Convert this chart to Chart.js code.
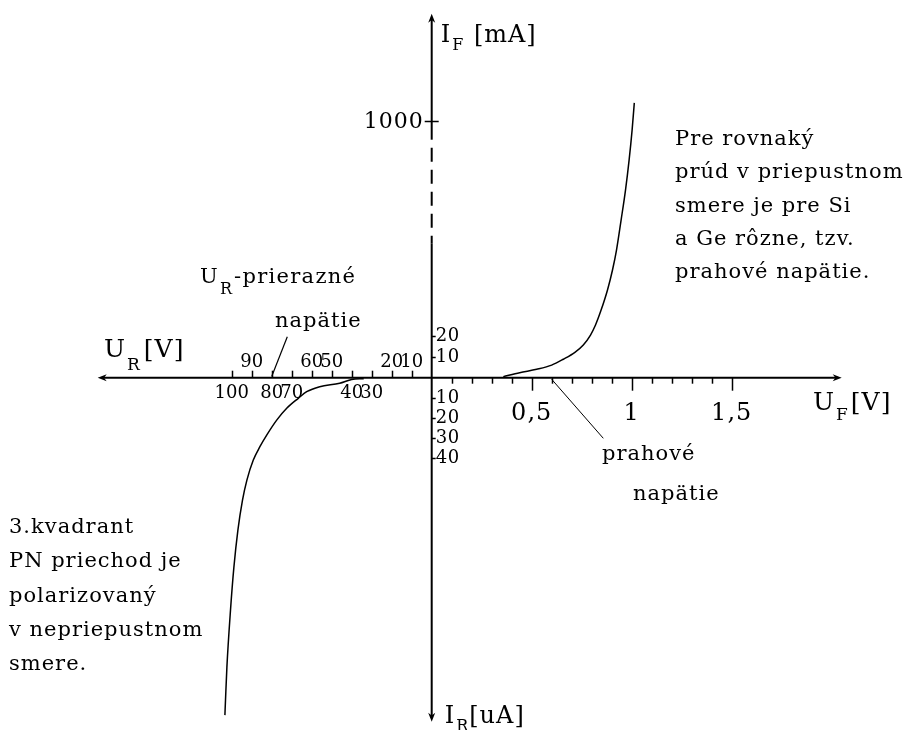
<!DOCTYPE html>
<html>
<head>
<meta charset="utf-8">
<script src="https://cdn.jsdelivr.net/npm/chart.js@4/dist/chart.umd.min.js"></script>
<style>
html,body{margin:0;padding:0;background:#ffffff;}
#c{display:block;}
</style>
</head>
<body>
<canvas id="c" width="914" height="730"></canvas>
<script>
// ---------------- DATA ----------------
// Forward branch (1st quadrant): U_F [V] vs I_F [mA]
const forwardVoltage = [0.358, 0.44, 0.525, 0.60, 0.658, 0.716, 0.758, 0.794, 0.819, 0.847, 0.879, 0.904, 0.924, 0.947, 0.969, 0.987, 1.002, 1.013];
const forwardCurrent = [0.5, 2.4, 4.0, 6.0, 8.8, 12.1, 15.6, 23, 69, 137, 229, 320, 411, 548, 685, 822, 959, 1083];

// Reverse branch (3rd quadrant): U_R [V] vs I_R [uA]
const reverseVoltage = [34, 40, 46, 56, 62.5, 66.7, 72.5, 77.5, 82.5, 85.9, 89.2, 92.4, 94.6, 96.9, 98.9, 100.6, 102.4, 103.1, 103.4];
const reverseCurrent = [0.5, 0.9, 2.8, 4.5, 7.0, 10.3, 15.3, 21.2, 28.7, 34.5, 41.2, 51.2, 61.2, 76.2, 94.7, 116.2, 144.7, 161.2, 168.7];

// Axis ticks
const forwardVoltageTicks = [0.1, 0.2, 0.3, 0.4, 0.5, 0.6, 0.7, 0.8, 0.9, 1.0, 1.1, 1.2, 1.3, 1.4, 1.5];
const forwardVoltageMajor = [0.5, 1.0, 1.5];
const forwardVoltageLabels = ['0,5', '1', '1,5'];
const reverseVoltageTicks = [10, 20, 30, 40, 50, 60, 70, 80, 90, 100];
const reverseLabelsAbove = [90, 60, 50, 20, 10];
const reverseLabelsBelow = [100, 80, 70, 40, 30];
const forwardCurrentTicks = [10, 20];
const forwardCurrentBigTick = [1000];
const reverseCurrentTicks = [10, 20, 30, 40];

// Pointer lines (annotation leaders)
const breakdownPointerUR = [80, 72.2];     // V
const breakdownPointerIF = [0.6, 19.5];    // mA
const thresholdPointerUF = [0.6, 0.858];   // V
const thresholdPointerIR = [0.8, 30.3];    // uA

// Texts
const axisTitleIF = ['I', 'F', ' [mA]'];
const axisTitleIR = ['I', 'R', '[uA]'];
const axisTitleUR = ['U', 'R', '[V]'];
const axisTitleUF = ['U', 'F', '[V]'];
const noteForward = ['Pre rovnaký', 'prúd v priepustnom', 'smere je pre Si', 'a Ge rôzne, tzv.', 'prahové napätie.'];
const noteQuadrant = ['3.kvadrant', 'PN priechod je', 'polarizovaný', 'v nepriepustnom', 'smere.'];
const noteBreakdown = ['U', 'R', '-prierazné', 'napätie'];
const noteThreshold = ['prahové', 'napätie'];

// ---------------- AXIS MAPPING (broken / mixed-unit axes) ----------------
const FWD_LIN = 1.05, FWD_BREAK = 20, FWD_COMP = 0.1095, REV_X = 100;
function yFromIF(mA) { return mA <= FWD_BREAK ? mA * FWD_LIN : FWD_BREAK * FWD_LIN + (mA - FWD_BREAK) * FWD_COMP; }
function yFromIR(uA) { return -uA; }
function xFromUF(v) { return v; }
function xFromUR(v) { return -v / REV_X; }

// axis extents (in quantity units)
const axisLeftUR = 167, axisRightUF = 2.05, axisTopIF = 1490, axisBottomIR = 172;
const dashFromIF = 440, dashToIF = 915;

const forwardPts = forwardVoltage.map((v, i) => ({x: xFromUF(v), y: yFromIF(forwardCurrent[i])}));
const reversePts = reverseVoltage.map((v, i) => ({x: xFromUR(v), y: yFromIR(reverseCurrent[i])}));
const breakdownPts = breakdownPointerUR.map((v, i) => ({x: xFromUR(v), y: yFromIF(breakdownPointerIF[i])}));
const thresholdPts = thresholdPointerUF.map((v, i) => ({x: xFromUF(v), y: yFromIR(thresholdPointerIR[i])}));

const SERIF = '"DejaVu Serif", serif';

function setFont(ctx, size, spacing) {
  ctx.font = size + 'px ' + SERIF;
  try { ctx.letterSpacing = (spacing || 0) + 'px'; } catch (e) {}
}

function drawSubText(ctx, parts, x, y, size, subSize, subDy, spacing, gap) {
  let cx = x;
  ctx.textAlign = 'left';
  ctx.textBaseline = 'alphabetic';
  setFont(ctx, size, spacing); ctx.fillText(parts[0], cx, y); cx += ctx.measureText(parts[0]).width;
  setFont(ctx, subSize, 0); ctx.fillText(parts[1], cx + 1, y + subDy); cx += ctx.measureText(parts[1]).width + 2 + (gap || 0);
  setFont(ctx, size, spacing); ctx.fillText(parts[2], cx, y);
}

function arrow(ctx, tx, ty, dx, dy) {
  const L = 9, W = 3.5;
  const px = -dy, py = dx;
  ctx.beginPath();
  ctx.moveTo(tx, ty);
  ctx.lineTo(tx - dx * L + px * W, ty - dy * L + py * W);
  ctx.lineTo(tx - dx * L * 0.7, ty - dy * L * 0.7);
  ctx.lineTo(tx - dx * L - px * W, ty - dy * L - py * W);
  ctx.closePath();
  ctx.fill();
}

const diagramPlugin = {
  id: 'diagram',
  beforeDatasetsDraw(chart) {
    const ctx = chart.ctx, sx = chart.scales.x, sy = chart.scales.y;
    const X = v => sx.getPixelForValue(v), Y = v => sy.getPixelForValue(v);
    const x0 = X(0), y0 = Y(0);
    ctx.save();
    ctx.strokeStyle = '#000'; ctx.fillStyle = '#000';
    ctx.lineWidth = 2;
    // horizontal axis
    const xl = X(xFromUR(axisLeftUR)), xr = X(xFromUF(axisRightUF));
    ctx.beginPath(); ctx.moveTo(xl + 4, y0); ctx.lineTo(xr - 4, y0); ctx.stroke();
    arrow(ctx, xl, y0, -1, 0); arrow(ctx, xr, y0, 1, 0);
    // vertical axis with dashed break
    const yt = Y(yFromIF(axisTopIF)), yb = Y(yFromIR(axisBottomIR));
    const yd1 = Y(yFromIF(dashFromIF)), yd2 = Y(yFromIF(dashToIF));
    ctx.beginPath(); ctx.moveTo(x0, yb - 4); ctx.lineTo(x0, yd1); ctx.stroke();
    ctx.beginPath(); ctx.moveTo(x0, yd2); ctx.lineTo(x0, yt + 4); ctx.stroke();
    ctx.setLineDash([14, 8]);
    ctx.lineDashOffset = -8;
    ctx.beginPath(); ctx.moveTo(x0, yd2); ctx.lineTo(x0, yd1); ctx.stroke();
    ctx.setLineDash([]);
    arrow(ctx, x0, yt, 0, -1); arrow(ctx, x0, yb, 0, 1);

    // ticks
    ctx.lineWidth = 1.5;
    forwardVoltageTicks.forEach(v => {
      const px = Math.round(X(xFromUF(v))) + 0.5;
      const len = forwardVoltageMajor.some(m => Math.abs(m - v) < 1e-9) ? 13 : 6;
      ctx.beginPath(); ctx.moveTo(px, y0); ctx.lineTo(px, y0 + len); ctx.stroke();
    });
    reverseVoltageTicks.forEach(v => {
      const px = Math.round(X(xFromUR(v))) + 0.5;
      ctx.beginPath(); ctx.moveTo(px, y0); ctx.lineTo(px, y0 - 7); ctx.stroke();
    });
    forwardCurrentTicks.forEach(v => {
      const py = Math.round(Y(yFromIF(v))) + 0.5;
      ctx.beginPath(); ctx.moveTo(x0, py); ctx.lineTo(x0 + 4, py); ctx.stroke();
    });
    reverseCurrentTicks.forEach(v => {
      const py = Math.round(Y(yFromIR(v))) + 0.5;
      ctx.beginPath(); ctx.moveTo(x0, py); ctx.lineTo(x0 + 4, py); ctx.stroke();
    });
    forwardCurrentBigTick.forEach(v => {
      const py = Math.round(Y(yFromIF(v))) + 0.5;
      ctx.beginPath(); ctx.moveTo(x0 - 7, py); ctx.lineTo(x0 + 7, py); ctx.stroke();
    });

    // tick labels
    ctx.textBaseline = 'alphabetic';
    ctx.textAlign = 'center';
    setFont(ctx, 24, 1);
    forwardVoltageMajor.forEach((v, i) => ctx.fillText(forwardVoltageLabels[i], X(xFromUF(v)), y0 + 42));
    setFont(ctx, 18, 0);
    reverseLabelsAbove.forEach(v => ctx.fillText(String(v), X(xFromUR(v)), y0 - 11));
    reverseLabelsBelow.forEach(v => ctx.fillText(String(v), X(xFromUR(v)), y0 + 20));
    ctx.textAlign = 'left'; ctx.textBaseline = 'middle';
    setFont(ctx, 18, 0.5);
    forwardCurrentTicks.forEach(v => ctx.fillText(String(v), x0 + 4, Y(yFromIF(v)) + 1));
    reverseCurrentTicks.forEach(v => ctx.fillText(String(v), x0 + 4, Y(yFromIR(v)) + 1));
    ctx.textAlign = 'right';
    setFont(ctx, 22, 1);
    forwardCurrentBigTick.forEach(v => ctx.fillText(String(v), x0 - 8, Y(yFromIF(v)) + 1));
    ctx.restore();
  },
  afterDatasetsDraw(chart) {
    const ctx = chart.ctx, sx = chart.scales.x, sy = chart.scales.y;
    const x0 = sx.getPixelForValue(0), y0 = sy.getPixelForValue(0);
    ctx.save();
    ctx.fillStyle = '#000';
    // axis titles
    drawSubText(ctx, axisTitleIF, x0 + 9, 42, 24, 16, 8, 1, 1);
    drawSubText(ctx, axisTitleIR, x0 + 13, 723, 24, 16, 8, 1, 0);
    drawSubText(ctx, axisTitleUR, 104, y0 - 21, 25, 17, 13, 1, 3);
    drawSubText(ctx, axisTitleUF, 813, y0 + 32, 25, 17, 10, 1, 2);
    // notes
    ctx.textAlign = 'left'; ctx.textBaseline = 'alphabetic';
    setFont(ctx, 21, 1);
    noteForward.forEach((t, i) => ctx.fillText(t, 675, 145 + i * 33.3));
    noteQuadrant.forEach((t, i) => ctx.fillText(t, 9, 533 + i * 34.3));
    drawSubText(ctx, noteBreakdown, 200, 283, 21, 16, 11, 1.3, 1);
    setFont(ctx, 21, 1);
    ctx.fillText(noteBreakdown[3], 275, 327);
    ctx.fillText(noteThreshold[0], 602, 460);
    ctx.fillText(noteThreshold[1], 633, 500);
    ctx.restore();
  }
};

new Chart(document.getElementById('c'), {
  type: 'scatter',
  data: {
    datasets: [
      {label: 'forward', data: forwardPts, showLine: true, borderColor: '#000', borderWidth: 1.5, pointRadius: 0, cubicInterpolationMode: 'monotone', fill: false},
      {label: 'reverse', data: reversePts, showLine: true, borderColor: '#000', borderWidth: 1.5, pointRadius: 0, cubicInterpolationMode: 'monotone', fill: false},
      {label: 'breakdown pointer', data: breakdownPts, showLine: true, borderColor: '#000', borderWidth: 1.2, pointRadius: 0, fill: false},
      {label: 'threshold pointer', data: thresholdPts, showLine: true, borderColor: '#000', borderWidth: 1, pointRadius: 0, fill: false}
    ]
  },
  options: {
    responsive: false,
    animation: false,
    layout: {padding: 0},
    plugins: {legend: {display: false}, tooltip: {enabled: false}, title: {display: false}},
    scales: {
      x: {type: 'linear', display: false, min: -2.1585, max: 2.4115},
      y: {type: 'linear', display: false, min: -176.15, max: 188.85}
    }
  },
  plugins: [diagramPlugin]
});
</script>
</body>
</html>
